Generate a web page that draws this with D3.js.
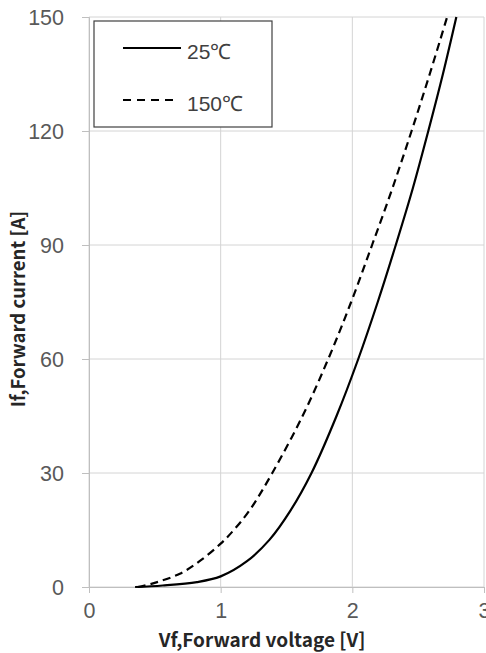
<!DOCTYPE html>
<html>
<head>
<meta charset="utf-8">
<script src="https://cdn.jsdelivr.net/npm/d3@7"></script>
<style>
  body { margin: 0; background: #fff; }
  svg { display: block; }
</style>
</head>
<body>
<script>
// forward characteristic
const v25 = [0.35, 0.56, 0.82, 1.0, 1.2, 1.37, 1.53, 1.69, 1.88, 2.045, 2.193, 2.33, 2.46, 2.577, 2.688, 2.79];
const i25 = [0, 0.4, 1.3, 2.8, 6.8, 12.4, 20.1, 30, 45, 60, 75, 90, 105, 120, 135, 150];

const v150 = [0.37, 0.48, 0.69, 0.84, 1.0, 1.1, 1.22, 1.392, 1.622, 1.817, 1.991, 2.15, 2.305, 2.45, 2.588, 2.72];
const i150 = [0, 0.9, 3.5, 6.8, 11.4, 15, 20.2, 30, 45, 60, 75, 90, 105, 120, 135, 150];

const xTicks = [0, 1, 2, 3];
const yTicks = [0, 30, 60, 90, 120, 150];
const seriesNames = ["25\u2103", "150\u2103"];

let w = 486;
let h = 653;

const svg = d3.select("body")
    .append("svg")
    .attr("width", w)
    .attr("height", h);

const xScale = d3.scaleLinear().domain([0, 3]).range([89, 484]);
const yScale = d3.scaleLinear().domain([0, 150]).range([587, 17]);

// grid
svg.append("g")
    .selectAll("line")
    .data(xTicks)
    .enter()
    .append("line")
    .attr("x1", d => xScale(d)).attr("x2", d => xScale(d))
    .attr("y1", yScale(150)).attr("y2", yScale(0))
    .attr("stroke", "#d4d4d4").attr("stroke-width", 1);

svg.append("g")
    .selectAll("line")
    .data(yTicks)
    .enter()
    .append("line")
    .attr("x1", xScale(0)).attr("x2", xScale(3))
    .attr("y1", d => yScale(d)).attr("y2", d => yScale(d))
    .attr("stroke", "#d4d4d4").attr("stroke-width", 1);

// axes
const xAxis = svg.append("g")
    .attr("transform", "translate(0," + yScale(0) + ")")
    .call(d3.axisBottom(xScale).tickValues(xTicks).tickSize(6).tickPadding(10).tickFormat(d3.format("d")));

const yAxis = svg.append("g")
    .attr("transform", "translate(" + xScale(0) + ",0)")
    .call(d3.axisLeft(yScale).tickValues(yTicks).tickSize(7).tickPadding(18).tickFormat(d3.format("d")));

[xAxis, yAxis].forEach(function (g) {
    g.select(".domain").attr("stroke", "#bfbfbf");
    g.selectAll(".tick line").attr("stroke", "#bfbfbf");
    g.selectAll(".tick text")
        .attr("fill", "#595959")
        .style("font-family", "'Liberation Sans', Arial, sans-serif")
        .style("font-size", "21.5px");
});
yAxis.selectAll(".tick text").attr("dy", "0.35em");

// curves
const line = d3.line()
    .x(d => xScale(d[0]))
    .y(d => yScale(d[1]))
    .curve(d3.curveCatmullRom.alpha(0.5));

const data25 = v25.map((v, i) => [v, i25[i]]);
const data150 = v150.map((v, i) => [v, i150[i]]);

svg.append("path")
    .datum(data150)
    .attr("d", line)
    .attr("fill", "none")
    .attr("stroke", "#000")
    .attr("stroke-width", 2.2)
    .attr("stroke-dasharray", "8,5");

svg.append("path")
    .datum(data25)
    .attr("d", line)
    .attr("fill", "none")
    .attr("stroke", "#000")
    .attr("stroke-width", 2.2);

// legend
const legend = svg.append("g");
legend.append("rect")
    .attr("x", 94).attr("y", 21)
    .attr("width", 178).attr("height", 106)
    .attr("fill", "#fff")
    .attr("stroke", "#404040").attr("stroke-width", 1.2);

const legY = [48, 100];
const dashes = [null, "8,6"];
seriesNames.forEach(function (name, i) {
    legend.append("line")
        .attr("x1", 123).attr("x2", i === 0 ? 181 : 178)
        .attr("y1", legY[i]).attr("y2", legY[i])
        .attr("stroke", "#000").attr("stroke-width", 2.2)
        .attr("stroke-dasharray", dashes[i]);
    legend.append("text")
        .attr("x", 187).attr("y", legY[i] + 11)
        .attr("fill", "#404040")
        .style("font-family", "'Liberation Sans', Arial, sans-serif")
        .style("font-size", "21px")
        .text(name);
});

// axis titles
svg.append("text")
    .attr("text-anchor", "middle")
    .attr("x", 262).attr("y", 647)
    .attr("fill", "#262626")
    .style("font-family", "'Noto Sans CJK SC', sans-serif")
    .style("font-weight", "bold")
    .style("font-size", "19px")
    .text("Vf,Forward voltage [V]");

svg.append("text")
    .attr("text-anchor", "middle")
    .attr("transform", "translate(25,309)rotate(-90)")
    .attr("fill", "#262626")
    .style("font-family", "'Noto Sans CJK SC', sans-serif")
    .style("font-weight", "bold")
    .style("font-size", "18.5px")
    .text("If,Forward current [A]");
</script>
</body>
</html>
